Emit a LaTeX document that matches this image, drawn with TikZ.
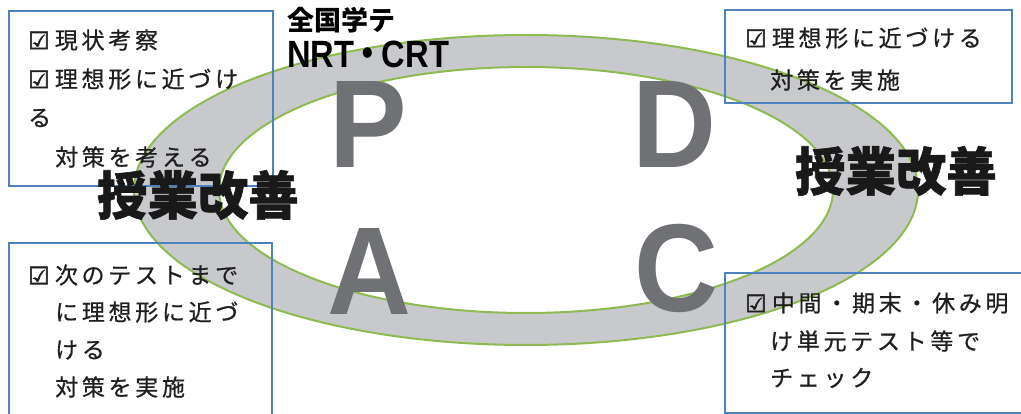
\documentclass[tikz,border=0pt]{standalone}
\usepackage{fontspec}
\setmainfont{Liberation Sans}
\newfontfamily\cjk{Noto Sans CJK JP}
\newfontfamily\cjkm{Noto Sans CJK JP}[FakeBold=0.7]
\newfontfamily\cjkh{Noto Sans CJK JP}[BoldFeatures={FakeBold=1.2}]
\newfontfamily\djvb{DejaVu Sans}[FakeBold=2.5]
\definecolor{ringgray}{RGB}{200,201,204}
\definecolor{ringgreen}{RGB}{141,187,82}
\definecolor{boxblue}{RGB}{79,129,189}
\definecolor{lettergray}{RGB}{112,113,117}
\def\ls#1{\ifx#1\relax\else#1\kern3.7pt\expandafter\ls\fi}
\newcommand{\chk}{\makebox[26.7pt][l]{\raisebox{-0.5pt}{\djvb\fontsize{24}{24}\selectfont ☑}}}
\tikzset{
  infobox/.style={draw=boxblue, line width=2.4pt},
  boxtext/.style={anchor=west, inner sep=0pt, font=\cjkm\fontsize{23}{23}\selectfont, text=black!88},
  pdca/.style={anchor=base, inner sep=0pt, text=lettergray, font=\bfseries\fontsize{125}{125}\selectfont, xscale=0.93},
  kaizen/.style={anchor=center, inner sep=0pt, font=\cjkh\bfseries\fontsize{52}{52}\selectfont, text=black!90, xscale=0.97},
}
\begin{document}
\begin{tikzpicture}[x=1pt,y=-1pt]
\useasboundingbox (0,0) rectangle (1021,414);
\clip (0,0) rectangle (1021,414);
% ring
\fill[ringgray, even odd rule] (526,190) ellipse [x radius=392, y radius=155]
                               (526,190) ellipse [x radius=307, y radius=123];
\draw[ringgreen, line width=2pt] (526,190) ellipse [x radius=392, y radius=155];
\draw[ringgreen, line width=2pt] (526,190) ellipse [x radius=307, y radius=123];
% PDCA letters
\node[pdca] (P) at (368,168) {P};
\node[pdca] (D) at (674,168) {D};
\node[pdca] (A) at (369,315) {A};
\node[pdca] (C) at (676,312) {C};
% boxes
\node[infobox, minimum width=264, minimum height=175, anchor=north west, inner sep=0pt] (tlbox) at (8,10) {};
\node[infobox, minimum width=263, minimum height=190, anchor=north west, inner sep=0pt] (blbox) at (8,242) {};
\node[infobox, minimum width=287, minimum height=93, anchor=north west, inner sep=0pt] (trbox) at (724,9) {};
\node[infobox, minimum width=310, minimum height=140, anchor=north west, inner sep=0pt] (brbox) at (724,272) {};
% top-left text
\node[boxtext] (tl1) at (28,40) {\chk\ls 現状考察\relax};
\node[boxtext] (tl2) at (28,79) {\chk\ls 理想形に近づけ\relax};
\node[boxtext] (tl3) at (28,118) {\ls る\relax};
\node[boxtext] (tl4) at (55,157) {\ls 対策を考える\relax};
% bottom-left text
\node[boxtext] (bl1) at (28,275) {\chk\ls 次のテストまで\relax};
\node[boxtext] (bl2) at (55,312) {\ls に理想形に近づ\relax};
\node[boxtext] (bl3) at (55,350) {\ls ける\relax};
\node[boxtext] (bl4) at (55,387) {\ls 対策を実施\relax};
% top-right text
\node[boxtext] (tr1) at (745,38) {\chk\ls 理想形に近づける\relax};
\node[boxtext] (tr2) at (770,80) {\ls 対策を実施\relax};
% bottom-right text
\node[boxtext] (br1) at (745,303) {\chk\ls 中間・期末・休み明\relax};
\node[boxtext] (br2) at (770,341) {\ls け単元テスト等で\relax};
\node[boxtext] (br3) at (770,378) {\ls チェック\relax};
% titles
\node[kaizen] (kl) at (198,195) {授業改善};
\node[kaizen] (kr) at (896,171) {授業改善};
\node[anchor=west, inner sep=0pt, font=\cjk\bfseries\fontsize{27}{27}\selectfont] (zk) at (287,20) {全国学テ};
\node[anchor=west, inner sep=0pt, font=\bfseries\fontsize{38}{38}\selectfont, xscale=0.86] (nrt) at (287,54) {NRT\kern-3pt{\cjk ・}\kern-3pt CRT};
\end{tikzpicture}
\end{document}
